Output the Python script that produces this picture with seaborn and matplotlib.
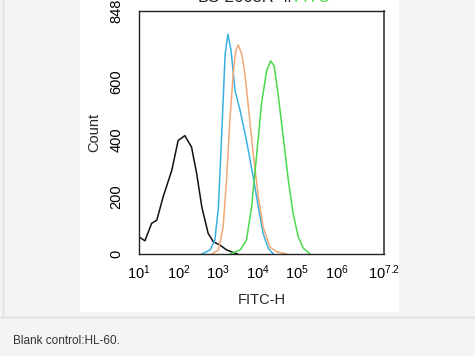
import numpy as np
import pandas as pd
import matplotlib
matplotlib.use("Agg")
import matplotlib.pyplot as plt
import matplotlib.ticker as mticker
from matplotlib.patches import Rectangle
from matplotlib.lines import Line2D
import seaborn as sns

# -----------------------------
# DATA (log10 FITC-H position, count)
# -----------------------------
black_log = [1.00, 1.15, 1.32, 1.45, 1.61, 1.83, 1.99, 2.16, 2.33, 2.46, 2.59, 2.75, 2.88, 3.05, 3.22, 3.39, 3.50]
black_cnt = [60, 46, 107, 118, 199, 292, 396, 413, 373, 280, 164, 72, 43, 31, 14, 5, 0]

blue_log = [2.59, 2.80, 2.92, 3.01, 3.09, 3.18, 3.25, 3.33, 3.43, 3.56, 3.72, 3.89, 4.02, 4.14, 4.27, 4.40]
blue_cnt = [0, 14, 49, 164, 408, 698, 767, 709, 570, 500, 396, 269, 164, 72, 20, 0]

orange_log = [2.84, 3.01, 3.13, 3.22, 3.30, 3.39, 3.45, 3.51, 3.60, 3.68, 3.77, 3.89, 4.02, 4.14, 4.31, 4.48, 4.75]
orange_cnt = [0, 14, 95, 269, 466, 640, 709, 730, 698, 628, 512, 350, 199, 95, 25, 8, 0]

green_log = [3.30, 3.56, 3.72, 3.85, 3.98, 4.10, 4.23, 4.33, 4.42, 4.52, 4.65, 4.78, 4.90, 5.03, 5.16, 5.33]
green_cnt = [0, 14, 49, 164, 350, 524, 640, 674, 657, 558, 408, 257, 141, 60, 20, 0]

x_tick_exp = [1, 2, 3, 4, 5, 6, 7, 7.2]
x_tick_labels = ["$10^{1}$", "$10^{2}$", "$10^{3}$", "$10^{4}$", "$10^{5}$", "$10^{6}$", "", "$10^{7.2}$"]
y_ticks = [0, 200, 400, 600, 848]

series = [
    ("black", black_log, black_cnt, "#111111"),
    ("blue", blue_log, blue_cnt, "#3ab0e2"),
    ("orange", orange_log, orange_cnt, "#f0a878"),
    ("green", green_log, green_cnt, "#4cd84c"),
]

# -----------------------------
# PLOT
# -----------------------------
sns.set_style("white")
plt.rcParams['font.family'] = ['Liberation Sans', 'DejaVu Sans']
plt.rcParams['mathtext.fontset'] = 'custom'
plt.rcParams['mathtext.rm'] = 'Liberation Sans'
plt.rcParams['mathtext.it'] = 'Liberation Sans'

fig = plt.figure(figsize=(4.75, 3.56), dpi=100, facecolor="#f3f4f4")
fig.patches.append(Rectangle((80 / 475, 1 - 312 / 356), 319 / 475, 312 / 356,
                             transform=fig.transFigure, facecolor="white", edgecolor="none", zorder=-5))
fig.lines.append(Line2D([0, 1], [1 - 317 / 356] * 2, transform=fig.transFigure, color="#dcdcdc", lw=1, zorder=-4))
fig.lines.append(Line2D([3 / 475] * 2, [1 - 317 / 356, 1], transform=fig.transFigure, color="#dcdcdc", lw=1, zorder=-4))

ax = fig.add_axes([139 / 475, 1 - 254 / 356, 245 / 475, 243 / 356])
ax.set_facecolor("white")

frames = []
for name, xs, ys, col in series:
    frames.append(pd.DataFrame({"fitc": 10 ** np.array(xs), "count": ys, "sample": name}))
df = pd.concat(frames, ignore_index=True)

sns.lineplot(data=df, x="fitc", y="count", hue="sample", palette={s[0]: s[3] for s in series},
             sort=False, estimator=None, lw=1.1, legend=False, ax=ax)

ax.set_xscale("log")
ax.set_xlim(10, 10 ** 7.2)
ax.set_ylim(0, 848)
ax.xaxis.set_major_locator(mticker.FixedLocator([10 ** e for e in x_tick_exp]))
ax.xaxis.set_major_formatter(mticker.FixedFormatter(x_tick_labels))
ax.xaxis.set_minor_locator(mticker.LogLocator(base=10, subs=np.arange(2, 10), numticks=20))
ax.xaxis.set_minor_formatter(mticker.NullFormatter())
ax.set_yticks(y_ticks)
ax.yaxis.set_minor_locator(mticker.MultipleLocator(50))
ax.tick_params(axis="both", which="major", direction="out", length=4, width=0.8, labelsize=10.5, colors="black")
ax.tick_params(axis="both", which="minor", direction="out", length=2, width=0.6)
ax.tick_params(axis="x", pad=3)
ax.tick_params(axis="y", pad=7)
for lab in ax.get_yticklabels():
    lab.set_rotation(90)
    lab.set_va("center")
for sp in ax.spines.values():
    sp.set_color("#222222")
    sp.set_linewidth(1.0)
ax.spines["right"].set_color("#555555")
ax.spines["right"].set_linewidth(1.4)

ax.set_xlabel("FITC-H", fontsize=10.5, labelpad=8)
ax.set_ylabel("Count", fontsize=10.5, labelpad=6)

# partially clipped title at the top edge
fig.text(294 / 475, 1 + 3 / 356, "BS-2663R-4/", ha="right", va="center", fontsize=12, color="#222222")
fig.text(294 / 475, 1 + 3 / 356, "FITC", ha="left", va="center", fontsize=12, color="#4cd84c")

fig.text(13 / 475, 1 - 341 / 356, "Blank control:HL-60.", ha="left", va="center", fontsize=8.5, color="#333333")

fig.savefig("out.png", dpi=100, facecolor=fig.get_facecolor())
